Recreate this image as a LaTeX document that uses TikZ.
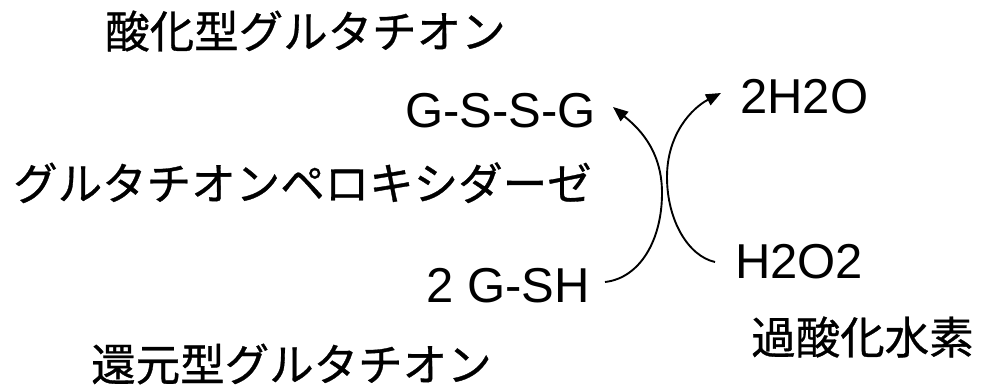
\documentclass[tikz,border=0pt]{standalone}
\usepackage{fontspec}
\setmainfont{Liberation Sans}
\newfontfamily\jpfont[FakeBold=0.7]{Noto Sans CJK JP}
\usetikzlibrary{arrows.meta}
\tikzset{
  jp/.style={font=\jpfont\fontsize{44.5pt}{48pt}\selectfont, inner sep=0pt, anchor=base west},
  chem/.style={font=\fontsize{49pt}{54pt}\selectfont, inner sep=0pt, anchor=base west},
  arr/.style={line width=1.9pt, -{Triangle[length=15pt,width=12pt]}}
}
\begin{document}
\begin{tikzpicture}[x=1pt,y=-1pt]
\useasboundingbox (0,0) rectangle (1008,388);
\node[jp] (ox) at (105,48) {酸化型グルタチオン};
\node[jp] (gpx) at (13,200) {グルタチオンペロキシダーゼ};
\node[jp] (red) at (91,381) {還元型グルタチオン};
\node[jp] (hp) at (751,354) {過酸化水素};
\node[chem] (gssg) at (405,127) {G-S-S-G};
\node[chem] (gsh) at (426,302) {2 G-SH};
\node[chem] (wat) at (740,113) {2H2O};
\node[chem] (h2o2) at (735,278) {H2O2};
\coordinate (l0) at (605,282);
\coordinate (l1) at (662,193);
\coordinate (l2) at (613,107);
\coordinate (r0) at (715,262);
\coordinate (r1) at (667,177);
\coordinate (r2) at (721,93);
\draw[arr] (l0) .. controls (640,278) and (662,240) .. (l1)
  .. controls (662,148) and (636,126) .. (l2);
\draw[arr] (r0) .. controls (688,256) and (667,220) .. (r1)
  .. controls (667,134) and (692,108) .. (r2);
\end{tikzpicture}
\end{document}
